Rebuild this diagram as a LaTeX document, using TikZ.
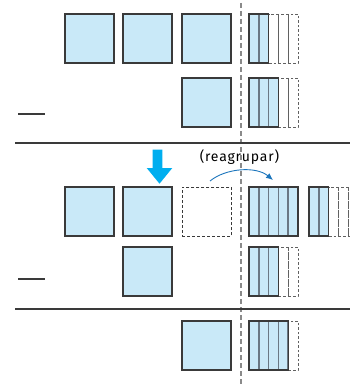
\documentclass[tikz,border=0pt]{standalone}
\usepackage{fontspec}
\setmainfont{Fira Sans}
\newfontfamily\notefont[LetterSpace=6]{Fira Sans}
\usetikzlibrary{arrows.meta}
\definecolor{blockfill}{HTML}{C9E9F8}
\definecolor{edgegray}{HTML}{3A3A3A}
\definecolor{dividergray}{HTML}{6A7884}
\definecolor{guidegray}{HTML}{8A8A8A}
\definecolor{downcyan}{HTML}{00AEEF}
\definecolor{arcblue}{HTML}{1C75BC}
\tikzset{
  hundred/.style={draw=edgegray, fill=blockfill, line width=1.1pt, minimum size=49pt,
    inner sep=0pt, anchor=north west, outer sep=0pt},
  hundredgap/.style={draw=edgegray, dash pattern=on 3pt off 2pt, line width=0.9pt,
    minimum size=49pt, inner sep=0pt, anchor=north west},
  rodfill/.style={draw=dividergray, fill=blockfill, line width=1.5pt},
  rodedge/.style={draw=edgegray, line width=1.1pt},
  rodgap/.style={draw=edgegray!80, dash pattern=on 2.5pt off 2pt, line width=0.9pt},
  rule/.style={draw=edgegray, line width=1.8pt},
  minus/.style={draw=edgegray, line width=1.2pt},
  guide/.style={draw=guidegray, line width=1.4pt, dash pattern=on 5pt off 3pt},
  regroup/.style={draw=arcblue, line width=0.9pt, -{Latex[length=7pt,width=6pt]}},
}
% a group of tens rods: x, y, filled rods, empty rods (empty >= 1)
\newcommand\rodgroup[4]{%
  \foreach \k in {1,...,#4}{%
    \draw[rodgap] ({#1+(#3+\k-1)*9.8},#2) rectangle ++(9.8,49);}
  \foreach \k in {1,...,#3}{%
    \draw[rodfill] ({#1+(\k-1)*9.8},#2) rectangle ++(9.8,49);}
  \draw[rodedge] (#1,#2) rectangle ++(#3*9.8,49);}
\newcommand\rodfull[2]{%
  \foreach \k in {1,...,5}{%
    \draw[rodfill] ({#1+(\k-1)*9.8},#2) rectangle ++(9.8,49);}
  \draw[rodedge] (#1,#2) rectangle ++(49,49);}
\begin{document}
\begin{tikzpicture}[x=1pt,y=-1pt]
\useasboundingbox (0,0) rectangle (350,385);
\clip (0,0) rectangle (350,385);

% place-value divider
\coordinate (gtop) at (241,3);
\coordinate (gbot) at (241,385);
\draw[guide] (gtop) -- (gbot);

% ---- minuend ----
\node[hundred] (a1) at (65,14) {};
\node[hundred] (a2) at (123,14) {};
\node[hundred] (a3) at (182,14) {};
\rodgroup{249}{14}{2}{3}

% ---- subtrahend ----
\node[hundred] (b1) at (182,78) {};
\rodgroup{249}{78}{3}{2}
\coordinate (m1l) at (18,114);
\coordinate (m1r) at (45,114);
\draw[minus] (m1l) -- (m1r);

\coordinate (r1l) at (15,143);
\coordinate (r1r) at (350,143);
\draw[rule] (r1l) -- (r1r);

% ---- regrouped minuend ----
\node[hundred] (c1) at (65,187) {};
\node[hundred] (c2) at (123,187) {};
\node[hundredgap] (c3) at (182,187) {};
\rodfull{249}{187}
\rodgroup{309}{187}{2}{3}

% downward marker over the second hundred
\fill[downcyan] (152.7,149.5) -- (162.3,149.5) -- (162.3,168) -- (172.3,168)
  -- (159.5,183.7) -- (146.7,168) -- (152.7,168) -- cycle;

\node[font=\notefont\fontsize{14}{16}\selectfont, inner sep=0pt] (lbl) at (239.5,157.5) {(reagrupar)};
\coordinate (rgs) at (210,181);
\coordinate (rge) at (273,180);
\draw[regroup] (rgs) .. controls (226,168) and (256,166) .. (rge);

% ---- regrouped subtrahend ----
\node[hundred] (d1) at (123,247) {};
\rodgroup{249}{247}{3}{2}
\coordinate (m2l) at (18,279);
\coordinate (m2r) at (45,279);
\draw[minus] (m2l) -- (m2r);

\coordinate (r2l) at (15,309);
\coordinate (r2r) at (350,309);
\draw[rule] (r2l) -- (r2r);

% ---- difference ----
\node[hundred] (e1) at (182,321) {};
\rodgroup{249}{321}{4}{1}
\end{tikzpicture}
\end{document}
